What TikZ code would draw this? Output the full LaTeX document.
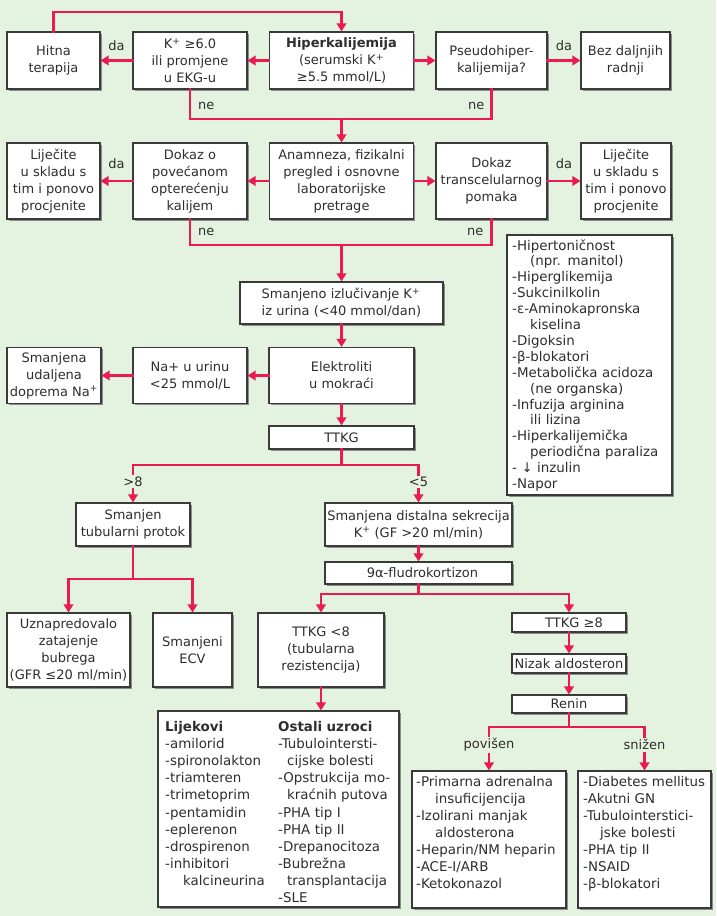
\documentclass[tikz,border=0pt]{standalone}
\usepackage{fontspec}
\setmainfont{DejaVu Sans}
\usetikzlibrary{arrows.meta,shadows}
\definecolor{bg}{HTML}{E4F2E0}
\definecolor{rd}{HTML}{E91B50}
\definecolor{bc}{HTML}{3A3A3A}
\definecolor{sh}{HTML}{8C8C8C}
\definecolor{tx}{HTML}{2E2E2E}
\newcommand\myfnt{\fontsize{13}{17}\selectfont}
\begin{document}
\begin{tikzpicture}[x=1pt,y=-1pt,
  box/.style={draw=bc, fill=white, line width=1.1pt, inner sep=1pt, align=center,
    font=\myfnt, text=tx,
    general shadow={fill=sh, shadow xshift=1.6pt, shadow yshift=-1.6pt}},
  lst/.style={anchor=base west, inner sep=0pt, align=left, text=tx},
  ln/.style={draw=rd, line width=2.4pt, line cap=rect},
  arr/.style={ln, -{Triangle[length=8pt,width=9.5pt]}},
  lbl/.style={font=\myfnt, text=tx, inner sep=0pt},
  lblf/.style={lbl, fill=bg, inner sep=1.5pt}]
\useasboundingbox (0,0) rectangle (716,916);
\fill[bg] (0,0) rectangle (716,916);

% row 1
\node[box, minimum width=93pt, minimum height=57pt] (hitna) at (53.5,60.5) {Hitna\\terapija};
\node[box, minimum width=114pt, minimum height=57pt] (k6) at (190,60.5) {K\textsuperscript{+} ≥6.0\\ili promjene\\u EKG-u};
\node[box, minimum width=144pt, minimum height=57pt] (hiper) at (341.5,60.5) {\textbf{Hiperkalijemija}\\(serumski K\textsuperscript{+}\\≥5.5 mmol/L)};
\node[box, minimum width=111pt, minimum height=57pt] (pseudo) at (491.5,60.5) {Pseudohiper-\\kalijemija?};
\node[box, minimum width=89pt, minimum height=57pt] (bez) at (625.5,60.5) {Bez daljnjih\\radnji};

% row 2
\node[box, minimum width=93pt, minimum height=76pt] (lijL) at (53.5,181) {Liječite\\u skladu s\\tim i ponovo\\procjenite};
\node[box, minimum width=114pt, minimum height=76pt] (dokK) at (190,181) {Dokaz o\\povećanom\\opterećenju\\kalijem};
\node[box, minimum width=144pt, minimum height=76pt] (anam) at (341.5,181) {Anamneza, fizikalni\\pregled i osnovne\\laboratorijske\\pretrage};
\node[box, minimum width=111pt, minimum height=76pt] (dokT) at (491.5,181) {Dokaz\\transcelularnog\\pomaka};
\node[box, minimum width=90pt, minimum height=76pt] (lijR) at (626,181) {Liječite\\u skladu s\\tim i ponovo\\procjenite};

% right list
\node[box, minimum width=165pt, minimum height=260pt] (rlist) at (589.5,365) {};
\node[lst, font=\fontsize{13.4}{15.9}\selectfont, text width=160pt] (rlistt) at (512,250) {-Hipertoničnost\\
\hspace*{18pt}(npr. manitol)\\
-Hiperglikemija\\
-Sukcinilkolin\\
-ε-Aminokapronska\\
\hspace*{18pt}kiselina\\
-Digoksin\\
-β-blokatori\\
-Metabolička acidoza\\
\hspace*{18pt}(ne organska)\\
-Infuzija arginina\\
\hspace*{18pt}ili lizina\\
-Hiperkalijemička\\
\hspace*{18pt}periodična paraliza\\
- ↓ inzulin\\
-Napor};

% middle
\node[box, align=left, minimum width=203pt, minimum height=42pt] (smiz) at (341.5,303) {Smanjeno izlučivanje K\textsuperscript{+}\\iz urina (<40 mmol/dan)};
\node[box, minimum width=145pt, minimum height=56pt] (elek) at (341.5,375.5) {Elektroliti\\u mokraći};
\node[box, minimum width=114pt, minimum height=56pt] (na) at (190,375.5) {Na+ u urinu\\<25 mmol/L};
\node[box, minimum width=94pt, minimum height=56pt] (smud) at (54,375.5) {Smanjena\\udaljena\\doprema Na\textsuperscript{+}};
\node[box, minimum width=145pt, minimum height=23pt] (ttkg) at (341.5,437.5) {TTKG};

% left branch
\node[box, minimum width=114pt, minimum height=43pt] (tub) at (133,524.5) {Smanjen\\tubularni protok};
\node[box, minimum width=123pt, minimum height=74pt] (uzn) at (68.5,650) {Uznapredovalo\\zatajenje\\bubrega\\(GFR ≤20 ml/min)};
\node[box, minimum width=79pt, minimum height=74pt] (ecv) at (192.5,650) {Smanjeni\\ECV};

% right branch
\node[box, minimum width=187pt, minimum height=43pt] (dist) at (418.5,524.5) {Smanjena distalna sekrecija\\K\textsuperscript{+} (GF >20 ml/min)};
\node[box, minimum width=187pt, minimum height=22pt] (flu) at (418.5,573) {\hspace*{8pt}9α-fludrokortizon};
\node[box, minimum width=126pt, minimum height=74pt] (t8) at (321,650) {TTKG <8\\(tubularna\\rezistencija)};
\node[box, minimum width=114pt, minimum height=19pt] (tge) at (569,622.5) {\hspace*{10pt}TTKG ≥8};
\node[box, minimum width=114pt, minimum height=19pt] (niz) at (569,663.5) {Nizak aldosteron};
\node[box, minimum width=114pt, minimum height=18pt] (ren) at (569,704) {Renin};

% bottom lists
\node[box, minimum width=241pt, minimum height=196pt] (lij) at (278.5,809) {};
\node[lst, font=\fontsize{13.4}{17.1}\selectfont, text width=110pt] (lijA) at (165,731.5) {\textbf{Lijekovi}\\
-amilorid\\
-spironolakton\\
-triamteren\\
-trimetoprim\\
-pentamidin\\
-eplerenon\\
-drospirenon\\
-inhibitori\\
\hspace*{18pt}kalcineurina};
\node[lst, font=\fontsize{13.4}{17.1}\selectfont, text width=118pt] (lijB) at (278,731.5) {\textbf{Ostali uzroci}\\
-Tubulointersti-\\
\hspace*{9pt}cijske bolesti\\
-Opstrukcija mo-\\
\hspace*{9pt}kraćnih putova\\
-PHA tip I\\
-PHA tip II\\
-Drepanocitoza\\
-Bubrežna\\
\hspace*{9pt}transplantacija\\
-SLE};

\node[box, minimum width=154pt, minimum height=137pt] (pov) at (489,839.5) {};
\node[lst, font=\fontsize{13.4}{17}\selectfont, text width=150pt] (povt) at (416,786.5) {-Primarna adrenalna\\
\hspace*{19pt}insuficijencija\\
-Izolirani manjak\\
\hspace*{19pt}aldosterona\\
-Heparin/NM heparin\\
-ACE-I/ARB\\
-Ketokonazol};
\node[box, minimum width=133pt, minimum height=137pt] (snz) at (644.5,839.5) {};
\node[lst, font=\fontsize{13.4}{17}\selectfont, text width=128pt] (snzt) at (583,786.5) {-Diabetes mellitus\\
-Akutni GN\\
-Tubulointerstici-\\
\hspace*{17pt}jske bolesti\\
-PHA tip II\\
-NSAID\\
-β-blokatori};

% connectors row 1
\coordinate (tp) at (341.5,12);
\draw[arr] (hitna.north) |- (tp) -- (hiper.north);
\draw[arr] (hiper.west) -- (k6.east);
\draw[arr] (k6.west) -- node[lbl, above=9pt]{da} (hitna.east);
\draw[arr] (hiper.east) -- (pseudo.west);
\draw[arr] (pseudo.east) -- node[lbl, above=9pt]{da} (bez.west);
\coordinate (j1) at (341.5,119);
\draw[ln] (k6.south) -- node[lbl, pos=0.57, right=7pt]{ne} (k6.south |- j1) -- (j1);
\draw[ln] (pseudo.south) -- node[lbl, pos=0.57, left=6pt]{ne} (pseudo.south |- j1) -- (j1);
\draw[arr] (j1) -- (anam.north);

% connectors row 2
\draw[arr] (anam.west) -- (dokK.east);
\draw[arr] (dokK.west) -- node[lbl, above=11pt]{da} (lijL.east);
\draw[arr] (anam.east) -- (dokT.west);
\draw[arr] (dokT.east) -- node[lbl, above=11pt]{da} (lijR.west);
\coordinate (j2) at (341.5,245);
\draw[ln] (dokK.south) -- node[lbl, pos=0.5, right=7pt]{ne} (dokK.south |- j2) -- (j2);
\draw[ln] (dokT.south) -- node[lbl, pos=0.5, left=7pt]{ne} (dokT.south |- j2) -- (j2);
\draw[arr] (j2) -- (smiz.north);

% middle
\draw[arr] (smiz.south) -- (elek.north);
\draw[arr] (elek.west) -- (na.east);
\draw[arr] (na.west) -- (smud.east);
\draw[arr] (elek.south) -- (ttkg.north);
\coordinate (j3) at (341.5,465);
\draw[ln] (ttkg.south) -- (j3);
\draw[ln] (j3 -| tub.north) -- (j3 -| dist.north);
\draw[arr] (j3 -| tub.north) -- node[lblf, pos=0.45]{>8} (tub.north);
\draw[arr] (j3 -| dist.north) -- node[lblf, pos=0.45]{<5} (dist.north);

% left branch
\coordinate (j4) at (133,579);
\draw[ln] (tub.south) -- (j4);
\draw[ln] (j4 -| uzn.north) -- (j4 -| ecv.north);
\draw[arr] (j4 -| uzn.north) -- (uzn.north);
\draw[arr] (j4 -| ecv.north) -- (ecv.north);

% right branch
\draw[arr] (dist.south) -- (flu.north);
\coordinate (j5) at (418.5,594);
\draw[ln] (flu.south) -- (j5);
\draw[ln] (j5 -| t8.north) -- (j5 -| tge.north);
\draw[arr] (j5 -| t8.north) -- (t8.north);
\draw[arr] (j5 -| tge.north) -- (tge.north);
\draw[arr] (t8.south) -- (t8.south |- lij.north);
\draw[arr] (tge.south) -- (niz.north);
\draw[arr] (niz.south) -- (ren.north);
\coordinate (j6) at (569,727);
\draw[ln] (ren.south) -- (j6);
\draw[ln] (j6 -| pov.north) -- (j6 -| snz.north);
\draw[arr] (j6 -| pov.north) -- node[lblf, pos=0.41]{povišen} (pov.north);
\draw[arr] (j6 -| snz.north) -- node[lblf, pos=0.41]{snižen} (snz.north);
\end{tikzpicture}
\end{document}
